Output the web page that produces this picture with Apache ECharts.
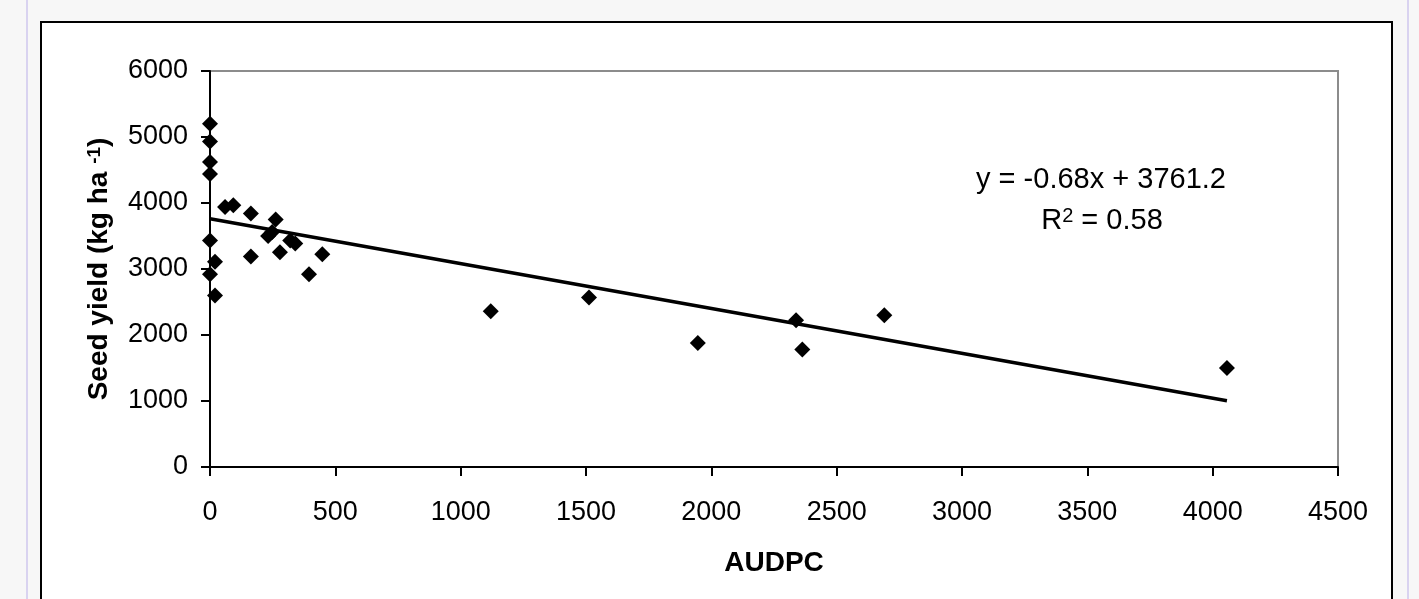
<!DOCTYPE html>
<html>
<head>
<meta charset="utf-8">
<title>Seed yield vs AUDPC</title>
<script src="https://cdn.jsdelivr.net/npm/echarts@6/dist/echarts.min.js"></script>
<style>
html,body{margin:0;padding:0;background:#f7f7f7;overflow:hidden;}
.rule{position:absolute;top:0;width:2px;height:599px;background:#d9d3f0;}
#frame{position:absolute;left:40px;top:21px;width:1349px;height:640px;border:2px solid #000;background:#fff;}
#main{position:absolute;left:0;top:0;width:1419px;height:599px;}
</style>
</head>
<body>
<div class="rule" style="left:26px"></div>
<div class="rule" style="left:1407px"></div>
<div id="frame"></div>
<div id="main"></div>
<script type="text/javascript">
// data
var audpc = [0, 0, 0, 0, 0, 20, 0, 20,
    60, 93, 163, 262, 232, 248, 320, 340, 163, 279, 395, 448,
    1120, 1512, 1946, 2338, 2363, 2690, 4057];
var seedYield = [5200, 4930, 4620, 4440, 3430, 3110, 2920, 2600,
    3940, 3965, 3840, 3750, 3500, 3560, 3430, 3385, 3190, 3255, 2920, 3225,
    2360, 2567, 1880, 2225, 1780, 2300, 1500];
// trend line end points (y = -0.68x + 3761.2)
var trendX = [0, 4057];
var trendY = [3761.2, 1002.4];
var xTicks = {min: 0, max: 4500, step: 500};
var yTicks = {min: 0, max: 6000, step: 1000};
var eqLine1 = 'y = -0.68x + 3761.2';
var eqLine2 = '{a|R}{s|2}{a| = 0.58}';

var font = "'Liberation Sans', Arial, sans-serif";

var points = [];
for (var i = 0; i < audpc.length; i++) {
    points.push([audpc[i], seedYield[i]]);
}
var trend = [];
for (var j = 0; j < trendX.length; j++) {
    trend.push([trendX[j], trendY[j]]);
}

function plain(v) {
    return String(v);
}

var myChart = echarts.init(document.getElementById('main'));
var option = {
    backgroundColor: 'transparent',
    animation: false,
    grid: {
        left: 210, top: 71, width: 1128, height: 396,
        show: true,
        backgroundColor: '#fff',
        borderColor: '#8c8c8c',
        borderWidth: 2
    },
    xAxis: {
        type: 'value',
        min: xTicks.min, max: xTicks.max, interval: xTicks.step,
        name: 'AUDPC',
        nameLocation: 'middle',
        nameGap: 82,
        nameTextStyle: {fontFamily: font, fontSize: 28, fontWeight: 'bold', color: '#000'},
        axisLine: {lineStyle: {color: '#000', width: 2}},
        axisTick: {show: true, inside: false, length: 9, lineStyle: {color: '#000', width: 2}},
        axisLabel: {fontFamily: font, fontSize: 27, color: '#000', margin: 32, formatter: plain},
        splitLine: {show: false}
    },
    yAxis: {
        type: 'value',
        min: yTicks.min, max: yTicks.max, interval: yTicks.step,
        name: '{a|Seed yield (kg ha }{s|-1}{a|)}',
        nameLocation: 'middle',
        nameGap: 97,
        nameTextStyle: {
            rich: {
                a: {fontFamily: font, fontSize: 28, fontWeight: 'bold', color: '#000'},
                s: {fontFamily: font, fontSize: 19, fontWeight: 'bold', color: '#000', verticalAlign: 'top'}
            }
        },
        axisLine: {lineStyle: {color: '#000', width: 2}},
        axisTick: {show: true, inside: false, length: 9, lineStyle: {color: '#000', width: 2}},
        axisLabel: {fontFamily: font, fontSize: 27, color: '#000', margin: 22, formatter: plain},
        splitLine: {show: false}
    },
    graphic: [
        {
            type: 'text', x: 1101, y: 180, z: 100,
            style: {text: eqLine1, font: '29px ' + font, fill: '#000', align: 'center', verticalAlign: 'middle'}
        },
        {
            type: 'text', x: 1102, y: 221, z: 100,
            style: {
                text: eqLine2, fill: '#000', align: 'center', verticalAlign: 'middle',
                rich: {
                    a: {fontFamily: font, fontSize: 29, fill: '#000'},
                    s: {fontFamily: font, fontSize: 20, fill: '#000', verticalAlign: 'top'}
                }
            }
        }
    ],
    series: [
        {
            name: 'trend',
            type: 'line',
            data: trend,
            symbol: 'none',
            lineStyle: {color: '#000', width: 3.5},
            z: 2
        },
        {
            name: 'yield',
            type: 'scatter',
            data: points,
            symbol: 'diamond',
            symbolSize: 16,
            itemStyle: {color: '#000', opacity: 1},
            z: 3
        }
    ]
};
myChart.setOption(option);
</script>
</body>
</html>
